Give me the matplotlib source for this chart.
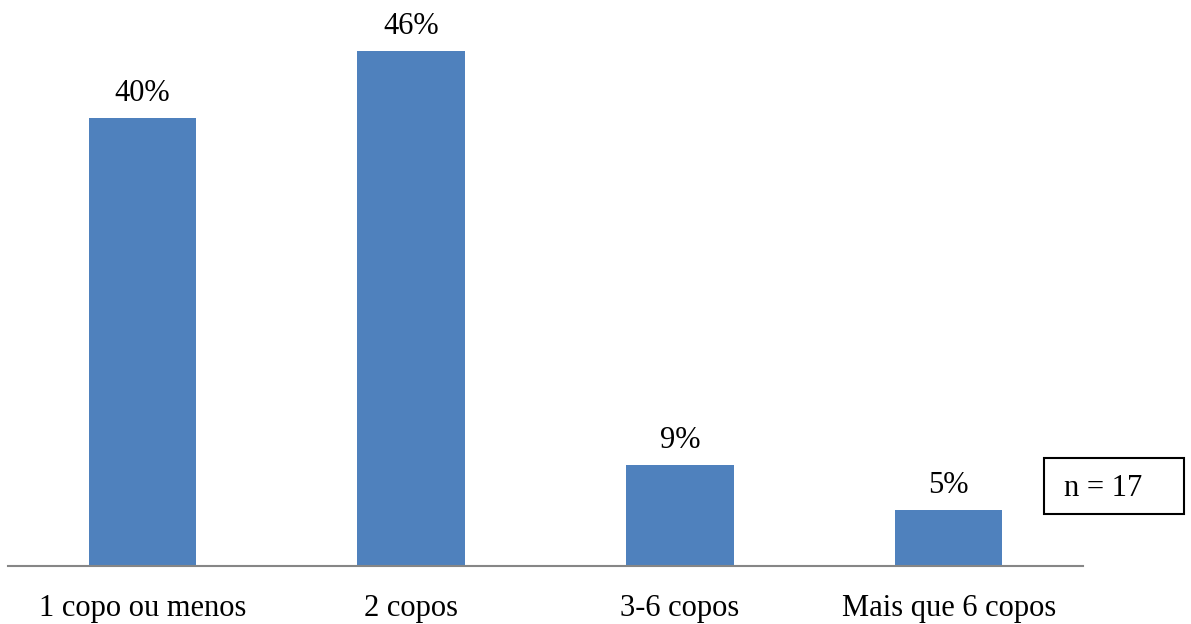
import matplotlib
matplotlib.use("Agg")
import matplotlib.pyplot as plt
from matplotlib.patches import Rectangle

categories = ["1 copo ou menos", "2 copos", "3-6 copos", "Mais que 6 copos"]
percentages = [40, 46, 9, 5]
bar_labels = ["40%", "46%", "9%", "5%"]
sample_note = "n = 17"

plt.rcParams["font.family"] = ["Liberation Serif", "DejaVu Serif"]

W, H = 1191, 624
fig = plt.figure(figsize=(W / 100, H / 100), dpi=100)
ax = fig.add_axes([8 / W, (H - 566) / H, (1083 - 8) / W, (566 - 6) / H])

x = list(range(len(categories)))
bars = ax.bar(x, percentages, width=0.4, color="#4F81BD")
ax.set_xlim(-0.5, len(categories) - 0.5)
ax.set_ylim(0, 50)

for rect, lab in zip(bars, bar_labels):
    ax.annotate(lab, (rect.get_x() + rect.get_width() / 2, rect.get_height()),
                xytext=(0, 7), textcoords="offset points",
                ha="center", va="bottom", fontsize=22, color="black")

ax.set_xticks(x)
ax.set_xticklabels(categories, fontsize=22)
ax.tick_params(axis="x", length=0, pad=20)
ax.set_yticks([])
for side in ["top", "right", "left"]:
    ax.spines[side].set_visible(False)
ax.spines["bottom"].set_color("#868686")
ax.spines["bottom"].set_linewidth(1.5)

# note box with sample size
fig.patches.append(Rectangle((1044 / W, (H - 514) / H), (1184 - 1044) / W, (514 - 458) / H,
                             transform=fig.transFigure, fill=False,
                             edgecolor="black", linewidth=1.5))
fig.text(1064 / W, (H - 488) / H, sample_note, ha="left", va="center", fontsize=22)

fig.savefig("out.png", dpi=100)
